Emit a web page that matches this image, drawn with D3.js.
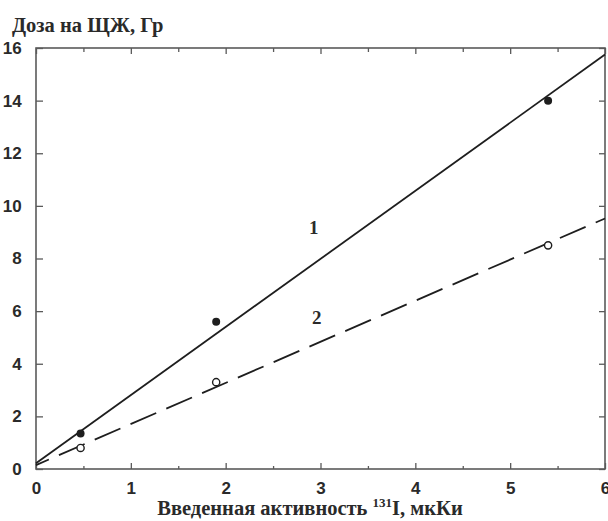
<!DOCTYPE html>
<html>
<head>
<meta charset="utf-8">
<script src="https://cdn.jsdelivr.net/npm/d3@7"></script>
<style>
  html, body { margin: 0; padding: 0; background: #fff; }
  .tick text { font-family: "Liberation Sans", Arial, sans-serif; font-weight: bold; font-size: 17px; fill: #2a2a2a; }
  .title { font-family: "Liberation Serif", "Times New Roman", serif; font-weight: bold; fill: #2a2a2a; }
</style>
</head>
<body>
<div id="chart"></div>
<script>
/* --- サイズ --- */
const width = 608, height = 521;
const margin = {top: 48, right: 3, bottom: 52, left: 36};

/* --- データ --- */
const xTicks = [0, 1, 2, 3, 4, 5, 6];
const xMinorTicks = [0.5, 1.5, 2.5, 3.5, 4.5, 5.5];
const yTicks = [0, 2, 4, 6, 8, 10, 12, 14, 16];

// 測定点
const activity = [0.47, 1.9, 5.4];
const dose1 = [1.35, 5.6, 14.0];   // 黒丸
const dose2 = [0.8, 3.3, 8.5];     // 白丸

// 近似直線 (x=0, x=6 の値)
const lineX = [0, 6];
const fit1 = [0.22, 15.75];
const fit2 = [0.15, 9.52];

// 曲線ラベル
const curveLabels = ["1", "2"];
const curveLabelX = [2.93, 2.96];
const curveLabelY = [8.95, 5.5];

const xTitle = "Введенная активность ";
const xTitleSup = "131";
const xTitleEnd = "I, мкКи";
const yTitle = "Доза на ЩЖ, Гр";

/* --- SVG --- */
const svg = d3.select("#chart").append("svg")
    .attr("width", width)
    .attr("height", height);

const x = d3.scaleLinear().domain([0, 6]).range([margin.left, width - margin.right]);
const y = d3.scaleLinear().domain([0, 16]).range([height - margin.bottom, margin.top]);

const frameColor = "#5a5a5a";
const inkColor = "#1e1e1e";

/*--- 軸 ---*/
const axisBottomG = svg.append("g")
    .attr("transform", "translate(0," + y(0) + ")")
    .call(d3.axisBottom(x).tickValues(xTicks).tickSize(-6).tickPadding(16).tickFormat(d3.format("d")));

const axisBottomMinorG = svg.append("g")
    .attr("transform", "translate(0," + y(0) + ")")
    .call(d3.axisBottom(x).tickValues(xMinorTicks).tickSize(-3).tickFormat(""));

const axisTopG = svg.append("g")
    .attr("transform", "translate(0," + y(16) + ")")
    .call(d3.axisTop(x).tickValues(xTicks).tickSize(-6).tickFormat(""));

const axisTopMinorG = svg.append("g")
    .attr("transform", "translate(0," + y(16) + ")")
    .call(d3.axisTop(x).tickValues(xMinorTicks).tickSize(-4).tickFormat(""));

const axisLeftG = svg.append("g")
    .attr("transform", "translate(" + x(0) + ",0)")
    .call(d3.axisLeft(y).tickValues(yTicks).tickSize(-7).tickPadding(16).tickFormat(d3.format("d")));

const axisRightG = svg.append("g")
    .attr("transform", "translate(" + x(6) + ",0)")
    .call(d3.axisRight(y).tickValues(yTicks).tickSize(-6).tickFormat(""));

[axisBottomG, axisBottomMinorG, axisTopG, axisTopMinorG, axisLeftG, axisRightG].forEach(function(g) {
    g.select(".domain").remove();
    g.selectAll(".tick line").attr("stroke", frameColor).attr("stroke-width", 1.3);
});
axisBottomG.selectAll(".tick text").attr("dy", "0.55em");
axisLeftG.selectAll(".tick text").attr("dx", "0.1em");

// 枠
svg.append("rect")
    .attr("x", x(0))
    .attr("y", y(16))
    .attr("width", x(6) - x(0))
    .attr("height", y(0) - y(16))
    .attr("fill", "none")
    .attr("stroke", frameColor)
    .attr("stroke-width", 1.6);

/*--- 直線 ---*/
const line = d3.line()
    .x(function(d) { return x(d[0]); })
    .y(function(d) { return y(d[1]); });

svg.append("path")
    .datum(lineX.map(function(d, i) { return [d, fit1[i]]; }))
    .attr("d", line)
    .attr("fill", "none")
    .attr("stroke", inkColor)
    .attr("stroke-width", 1.8);

svg.append("path")
    .datum(lineX.map(function(d, i) { return [d, fit2[i]]; }))
    .attr("d", line)
    .attr("fill", "none")
    .attr("stroke", inkColor)
    .attr("stroke-width", 1.8)
    .attr("stroke-dasharray", "28,11")
    .attr("stroke-dashoffset", 14);

/*--- 測定点 ---*/
svg.selectAll(".pt1")
    .data(activity)
    .enter().append("circle")
    .attr("class", "pt1")
    .attr("cx", function(d) { return x(d); })
    .attr("cy", function(d, i) { return y(dose1[i]); })
    .attr("r", 4)
    .attr("fill", inkColor);

svg.selectAll(".pt2")
    .data(activity)
    .enter().append("circle")
    .attr("class", "pt2")
    .attr("cx", function(d) { return x(d); })
    .attr("cy", function(d, i) { return y(dose2[i]); })
    .attr("r", 3.6)
    .attr("fill", "#fff")
    .attr("stroke", inkColor)
    .attr("stroke-width", 1.4);

/*--- ラベル ---*/
svg.selectAll(".curveLabel")
    .data(curveLabels)
    .enter().append("text")
    .attr("class", "title curveLabel")
    .attr("x", function(d, i) { return x(curveLabelX[i]); })
    .attr("y", function(d, i) { return y(curveLabelY[i]); })
    .attr("text-anchor", "middle")
    .attr("font-size", 19)
    .text(function(d) { return d; });

svg.append("text")
    .attr("class", "title")
    .attr("x", 12)
    .attr("y", 32)
    .attr("font-size", 20.5)
    .text(yTitle);

const xt = svg.append("text")
    .attr("class", "title")
    .attr("x", 310)
    .attr("y", 515)
    .attr("text-anchor", "middle")
    .attr("font-size", 20.5);
xt.append("tspan").text(xTitle);
xt.append("tspan").attr("font-size", 13).attr("dy", -8).text(xTitleSup);
xt.append("tspan").attr("dy", 8).text(xTitleEnd);
</script>
</body>
</html>
